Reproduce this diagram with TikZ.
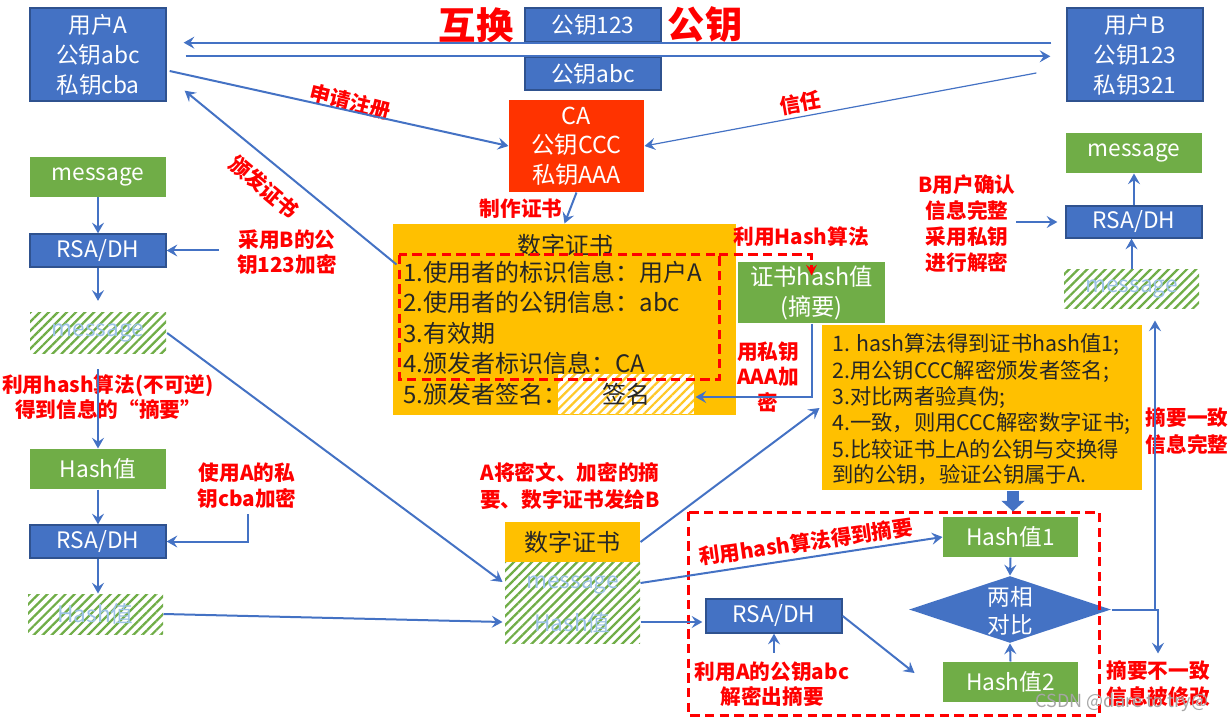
\documentclass[tikz,border=0pt]{standalone}
\usepackage{fontspec}
\newfontfamily\cjk{Noto Sans CJK SC}
\usetikzlibrary{arrows.meta,calc,shapes.geometric,patterns.meta}

\definecolor{boxblue}{RGB}{68,114,196}
\definecolor{boxline}{RGB}{47,82,143}
\definecolor{boxgreen}{RGB}{112,173,71}
\definecolor{boxorange}{RGB}{255,192,0}
\definecolor{caorange}{RGB}{255,51,0}
\definecolor{paleblue}{RGB}{157,195,230}
\definecolor{darktext}{RGB}{38,38,38}
\definecolor{hatchyellow}{RGB}{255,200,40}
\newcommand\setfs[2]{\fontsize{#1}{#2}\selectfont}

\tikzset{every picture/.style={line width=0.75pt}}
\tikzset{
	bluebox/.style={draw=boxline, line width=1pt, fill=boxblue, text=white, inner sep=0pt, align=center, minimum width=102pt, font=\cjk\setfs{17}{22.5}},
	greenbox/.style={fill=boxgreen, text=white, inner sep=0pt, align=center, minimum width=102pt, font=\cjk\setfs{17}{22.5}},
	hatchbox/.style={pattern={Lines[angle=45,distance=4.8pt,line width=1.7pt]}, pattern color=boxgreen, text=paleblue, inner sep=0pt, minimum width=101.25pt, font=\cjk\setfs{17}{22.5}},
	certtext/.style={text=darktext, inner sep=0pt, font=\cjk\setfs{18}{22.5}},
	checktext/.style={text=darktext, inner sep=0pt, anchor=west, font=\cjk\setfs{16}{19.5}},
	redlbl/.style={text=red, inner sep=0pt, align=center, font=\cjk\bfseries\setfs{15.5}{19.5}},
	conn/.style={draw=boxblue, line width=1.5pt, -{Stealth[length=8pt,width=9pt,inset=3pt]}},
	reddash/.style={draw=red, line width=2.25pt, dash pattern=on 7pt off 4pt},
	fatarrow/.style={draw=boxblue, line width=9pt, -{Triangle[length=8pt,width=17pt]}}
}

\begin{document}
\begin{tikzpicture}[x=0.75pt,y=0.75pt,yscale=-1,xscale=1]
	\useasboundingbox (0,0) rectangle (1230,723);

	%Shape: Rectangle [users and exchanged keys]
	\node[bluebox, minimum height=69.75pt] (userA) at (98,54.5) {用户A\\公钥abc\\私钥cba};
	\node[bluebox, minimum height=69.75pt] (userB) at (1135,54.5) {用户B\\公钥123\\私钥321};
	\node[bluebox, minimum height=25.5pt] (k123) at (593,25) {公钥123};
	\node[bluebox, minimum height=24.75pt] (kabc) at (593,73.5) {公钥abc};
	% Text Node
	\node[redlbl, font=\cjk\bfseries\setfs{28}{30}] (swapL) at (476,25) {互换};
	\node[redlbl, font=\cjk\bfseries\setfs{28}{30}] (swapR) at (705,25) {公钥};

	%Shape: Rectangle [CA]
	\node[fill=caorange, text=white, inner sep=0pt, align=center, minimum width=101.25pt, minimum height=69pt, font=\cjk\setfs{17.5}{22}] (CA) at (576.5,146) {CA\\公钥CCC\\私钥AAA};

	%Shape: Rectangle [left column]
	\node[greenbox, minimum height=30pt] (msgA) at (98,177) {message};
	\node[bluebox, minimum height=24.75pt] (rsaA1) at (98,250.5) {RSA/DH};
	\node[hatchbox, minimum width=102pt, minimum height=30pt] (hmsgA) at (98,333) {message};
	\node[greenbox, minimum height=30pt] (hashA) at (98,469) {Hash值};
	\node[bluebox, minimum height=24.75pt] (rsaA2) at (98,541.5) {RSA/DH};
	\node[hatchbox, minimum height=30pt] (hhashA) at (95.5,614) {Hash值};

	%Shape: Rectangle [certificate]
	\node[fill=boxorange, inner sep=0pt, minimum width=257.25pt, minimum height=143.25pt] (cert) at (564.5,319.5) {};
	\node[certtext] (certT) at (565,245) {数字证书};
	\node[certtext, anchor=west] (item1) at (403,272) {1.使用者的标识信息：用户A};
	\node[certtext, anchor=west] (item2) at (403,302.5) {2.使用者的公钥信息：abc};
	\node[certtext, anchor=west] (item3) at (403,333) {3.有效期};
	\node[certtext, anchor=west] (item4) at (403,363.5) {4.颁发者标识信息：CA};
	\node[certtext, anchor=west] (item5) at (403,394) {5.颁发者签名：};
	\node[certtext, fill=white, minimum width=102pt, minimum height=30pt, postaction={pattern={Lines[angle=45,distance=4.8pt,line width=1.7pt]}, pattern color=hatchyellow}] (sign) at (626,394) {};
	\node[certtext] (signT) at (626,394) {签名};
	\draw[reddash] (399,255) rectangle (719,379);
	\coordinate (dTR) at (719,255);

	%Shape: Rectangle [certificate hash]
	\node[greenbox, minimum width=110.25pt, minimum height=45.75pt, font=\cjk\setfs{17.5}{22.5}] (certhash) at (811.5,292.5) {证书hash值\\(摘要)};

	%Shape: Rectangle [checking steps]
	\node[fill=boxorange, inner sep=0pt, minimum width=240pt, minimum height=123.75pt] (verify) at (982,407.5) {};
	\node[checktext] (step1) at (832,345) {1. hash算法得到证书hash值1;};
	\node[checktext] (step2) at (832,371) {2.用公钥CCC解密颁发者签名;};
	\node[checktext] (step3) at (832,397) {3.对比两者验真伪;};
	\node[checktext] (step4) at (832,423) {4.一致，则用CCC解密数字证书;};
	\node[checktext] (step5) at (832,449) {5.比较证书上A的公钥与交换得};
	\node[checktext] (step6) at (832,475) {到的公钥，验证公钥属于A.};

	%Shape: Rectangle [right column]
	\node[greenbox, minimum height=30pt] (msgB) at (1134,153) {message};
	\node[bluebox, minimum height=24pt] (rsaB) at (1134,222) {RSA/DH};
	\node[hatchbox, minimum height=29.25pt] (hmsgB) at (1131.5,289.5) {message};

	%Shape: Rectangle [what A sends]
	\node[fill=boxorange, inner sep=0pt, minimum width=101.25pt, minimum height=30pt, text=darktext, font=\cjk\setfs{18}{22.5}] (bcert) at (572.5,542) {数字证书};
	\node[hatchbox, minimum height=60.75pt] (bhatch) at (572.5,602.5) {};
	\node[text=paleblue, inner sep=0pt, font=\cjk\setfs{17}{22.5}] (bmsg) at (572.5,585) {message};
	\node[text=paleblue, inner sep=0pt, font=\cjk\setfs{17}{22.5}] (bhash) at (572.5,623) {Hash值};

	%Shape: Rectangle [comparison]
	\node[bluebox, minimum height=25.5pt] (rsaC) at (774,616) {RSA/DH};
	\node[greenbox, minimum width=101.25pt, minimum height=30pt] (hash1) at (1010.5,537) {Hash值1};
	\node[greenbox, minimum width=101.25pt, minimum height=30pt] (hash2) at (1010.5,682) {Hash值2};
	\node[shape=diamond, fill=boxblue, inner sep=0pt, minimum width=151.5pt, minimum height=50.25pt] (cmp) at (1010,609.5) {};
	\node[text=white, inner sep=0pt, align=center, font=\cjk\setfs{17}{21}] (cmpT) at (1010,611) {两相\\对比};
	\draw[reddash] (688,512) rectangle (1099,715);

	% Text Node
	\node[redlbl, rotate=-14] (lblReg) at (350,102) {申请注册};
	\node[redlbl, rotate=10] (lblTrust) at (800,103) {信任};
	\node[redlbl, rotate=-40] (lblIssue) at (264,187) {颁发证书};
	\node[redlbl] (lblMake) at (521,209) {制作证书};
	\node[redlbl] (lblHashAlg) at (801,237) {利用Hash算法};
	\node[redlbl, font=\cjk\bfseries\setfs{15.5}{19}] (lblPriv) at (768,377) {用私钥\\AAA加\\密};
	\node[redlbl, font=\cjk\bfseries\setfs{15.5}{19}] (lblB) at (287,252) {采用B的公\\钥123加密};
	\node[redlbl, font=\cjk\bfseries\setfs{15.5}{19}] (lblDigest) at (108,397) {利用hash算法(不可逆)\\得到信息的“摘要”};
	\node[redlbl, font=\cjk\bfseries\setfs{15.5}{19.5}] (lblA) at (247,486) {使用A的私\\钥cba加密};
	\node[redlbl, font=\cjk\bfseries\setfs{15.5}{20}] (lblSend) at (570,486) {A将密文、加密的摘\\要、数字证书发给B};
	\node[redlbl, rotate=8] (lblGet) at (806,542) {利用hash算法得到摘要};
	\node[redlbl, font=\cjk\bfseries\setfs{15.5}{19}] (lblC) at (772,684) {利用A的公钥abc\\解密出摘要};
	\node[redlbl, font=\cjk\bfseries\setfs{15.5}{19.5}] (lblE) at (967,224) {B用户确认\\信息完整\\采用私钥\\进行解密};
	\node[redlbl, font=\cjk\bfseries\setfs{15.5}{20}] (lblSame) at (1187,431) {摘要一致\\信息完整};
	\node[redlbl, font=\cjk\bfseries\setfs{15.5}{19.5}] (lblD) at (1158,684) {摘要不一致\\信息被修改};
	\node[text=black!35, inner sep=0pt, font=\cjk\setfs{13.5}{15}] (wm) at (1122,702) {CSDN @dare to try@};

	%Straight Lines [key exchange and CA]
	\draw[conn, shorten <=11.25pt, shorten >=12.75pt] (userB.west |- k123.south) -- (userA.east |- k123.south);
	\draw[conn, shorten <=14.25pt, shorten >=12pt] (userA.east |- kabc.north) -- (userB.west |- kabc.north);
	\draw[conn] ($(userA.east)+(3,16.5)$) -- (CA.west);
	\draw[conn, line width=0.9pt] ($(userB.west)+(-30,18.5)$) -- (CA.east);
	\draw[conn] ($(cert.north west)+(4,41)$) -- ($(userA.south east)+(18,-11)$);
	\draw[conn] (CA.south) -- (cert.north);

	%Straight Lines [left column]
	\coordinate (bKey) at (219,250.5);
	\draw[conn] (msgA) -- (rsaA1);
	\draw[conn] (bKey) -- (rsaA1.east);
	\draw[conn, shorten >=8.25pt] (rsaA1) -- (hmsgA);
	\draw[conn] ($(hmsgA.south)+(0,15)$) -- (hashA);
	\draw[conn] (hashA) -- (rsaA2);
	\draw[conn] ($(lblA.south)+(1,5)$) |- (rsaA2.east);
	\draw[conn] (rsaA2.south) -- (rsaA2.south |- hhashA.north);
	\draw[conn] (hhashA.east) -- ($(bhatch.west)+(-2,19.5)$);
	\draw[conn] (hmsgA.east) -- ($(bhatch.west)+(-2,-20.5)$);

	%Straight Lines [checking]
	\draw[conn] (bcert.east) -- ($(verify.west)+(-2,0.5)$);
	\draw[conn] ($(bhatch.east)+(0,-19.5)$) -- (hash1.west);
	\draw[conn] ($(bhatch.east)+(0,19.5)$) -- ($(rsaC.west)+(-3,6)$);
	\draw[conn] ($(rsaC.south |- lblC.north)+(0,-8)$) -- (rsaC.south);
	\draw[conn] (rsaC.east) -- ($(hash2.west)+(-28,-9)$);
	\draw[conn] (hash1.south) -- (cmp.north);
	\draw[conn] (hash2.north) -- (cmp.south);
	\draw[conn] (cmp.east) -| ($(hmsgB.south)+(23.5,11)$);
	\draw[conn] (cmp.east) -| ($(lblD.north)+(0,-7)$);
	\draw[fatarrow] ($(verify.south)+(31,0)$) -- ($(hash1.north)+(2.5,-5)$);
	\draw[conn] (certhash.south) |- ($(sign.east)+(1,3)$);
	\draw[reddash, -{Stealth[length=8pt,width=8pt,inset=3pt]}] (dTR) -| ($(certhash.north)+(0,14)$);

	%Straight Lines [right column]
	\draw[conn] (hmsgB.north) -- (hmsgB.north |- rsaB.south);
	\draw[conn] (rsaB) -- (msgB);
	\draw[conn, shorten >=6pt] (lblE.east |- rsaB.west) -- (rsaB.west);

\end{tikzpicture}
\end{document}
